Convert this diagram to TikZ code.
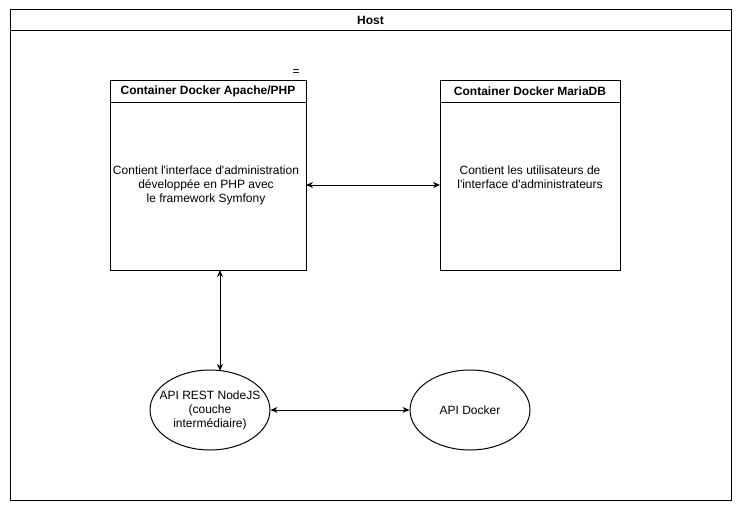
\documentclass[tikz,border=0pt]{standalone}
\usepackage{fontspec}
\setmainfont{Liberation Sans}
\usetikzlibrary{shapes.geometric,arrows.meta}
\newcommand{\sq}{\textquotesingle}
\begin{document}
\begin{tikzpicture}[x=1pt,y=-1pt,line width=1pt,
  every node/.style={font=\fontsize{12}{14}\selectfont},
  title/.style={font=\fontsize{12}{14}\selectfont\bfseries},
  body/.style={align=center},
  ell/.style={draw,ellipse,minimum width=120pt,minimum height=80pt,inner sep=0pt},
  conn/.style={{Stealth[length=7pt,width=6pt]}-{Stealth[length=7pt,width=6pt]}}]
\useasboundingbox (0,0) rectangle (741,511);
\fill[white] (0,0) rectangle (741,511);
% Host
\draw (10,10) rectangle (731,500);
\draw (10,31) -- (731,31);
\node[title] (host) at (370.5,20.5) {Host};
% Apache
\draw (110,80) rectangle (306,270);
\draw (110,102) -- (306,102);
\node[title] (apt) at (208,91) {Container Docker Apache/PHP};
\node[body] (apb) at (206,185) {Contient l\sq interface d\sq administration\\développée en PHP avec\\le framework Symfony};
\coordinate (apR) at (306,185);
\coordinate (apB) at (220,270);
\node (eq) at (296,73) {=};
% MariaDB
\draw (440,80) rectangle (620,270);
\draw (440,102) -- (620,102);
\node[title] (mdt) at (530,91) {Container Docker MariaDB};
\node[body] (mdb) at (530,177) {Contient les utilisateurs de\\l\sq interface d\sq administrateurs};
\coordinate (mdL) at (440,185);
% Ellipses
\node[ell] (rest) at (210,410) {};
\node[body] (restt) at (210,410) {API REST NodeJS\\(couche\\intermédiaire)};
\node[ell] (dock) at (470,410) {};
\node (dockt) at (470,410) {API Docker};
\coordinate (restT) at (220,370.9);
% Connectors
\draw[conn] (apR) -- (mdL);
\draw[conn] (apB) -- (restT);
\draw[conn] (rest.east) -- (dock.west);
\end{tikzpicture}
\end{document}
